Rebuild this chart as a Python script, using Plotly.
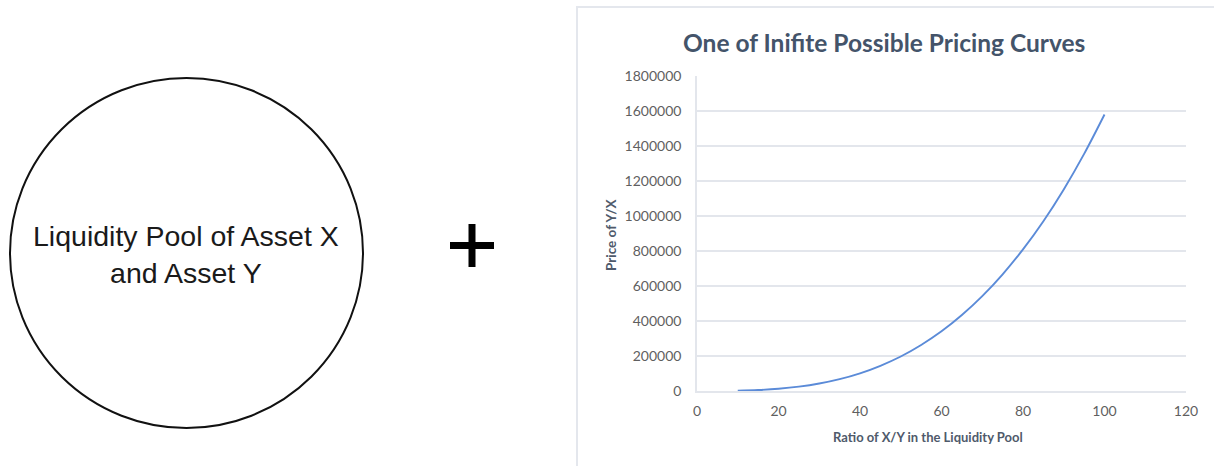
import plotly.graph_objects as go

# Pricing curve: price of Y/X at each X/Y ratio in the pool
ratio = [10, 15, 20, 25, 30, 35, 40, 45, 50, 55, 60, 65, 70, 75, 80, 85, 90, 95, 100]
price = [1600, 5300, 12600, 24700, 42700, 67700, 101000, 144000, 197000, 263000,
         341000, 434000, 542000, 667000, 809000, 970000, 1152000, 1355000, 1580000]

x_ticks = [0, 20, 40, 60, 80, 100, 120]
y_ticks = [0, 200000, 400000, 600000, 800000, 1000000, 1200000, 1400000, 1600000, 1800000]

chart_title = "One of Inifite Possible Pricing Curves"
x_title = "Ratio of X/Y in the Liquidity Pool"
y_title = "Price of Y/X"
pool_label = "Liquidity Pool of Asset X<br>and Asset Y"

W, H = 1214, 466


def px(x):
    return x / W


def py(y):
    return 1 - y / H


TICK_FONT = dict(family="Lato, Open Sans, sans-serif", size=14, color="#5f5f5f")
TITLE_COLOR = "#44546a"
AXIS_TITLE_COLOR = "#4f5a6b"
GRID = "#e3e6ec"

fig = go.Figure()
fig.add_trace(go.Scatter(
    x=ratio, y=price, mode="lines", line_shape="spline",
    line=dict(color="#5b8bd8", width=1.9), showlegend=False, hoverinfo="x+y",
))

fig.update_layout(
    template="none",
    width=W, height=H, autosize=False,
    margin=dict(l=0, r=0, t=0, b=0, pad=0, autoexpand=False),
    paper_bgcolor="white", plot_bgcolor="white",
    xaxis=dict(
        domain=[px(697), px(1186)], range=[0, 120], automargin=False,
        tickvals=x_ticks, ticktext=[str(v) for v in x_ticks],
        showgrid=False, zeroline=False,
        showline=True, linecolor=GRID, linewidth=1.5,
        ticks="", ticklabelstandoff=6, tickfont=TICK_FONT,
    ),
    yaxis=dict(
        domain=[py(391), py(76)], range=[0, 1800000], automargin=False,
        tickvals=y_ticks, ticktext=[str(v) for v in y_ticks],
        showgrid=True, gridcolor=GRID, gridwidth=1.5, zeroline=False,
        showline=True, linecolor=GRID, linewidth=1.5,
        ticks="", ticklabelstandoff=11, tickfont=TICK_FONT,
    ),
    shapes=[
        # chart panel frame
        dict(type="rect", xref="paper", yref="paper",
             x0=px(577), x1=px(1230), y0=py(480), y1=py(7),
             line=dict(color="#e4e7ed", width=2), fillcolor="rgba(0,0,0,0)", layer="below"),
        # liquidity pool circle
        dict(type="circle", xref="paper", yref="paper",
             x0=px(10), x1=px(363), y0=py(428), y1=py(78),
             line=dict(color="#111111", width=2)),
        # plus sign
        dict(type="rect", xref="paper", yref="paper",
             x0=px(450), x1=px(494), y0=py(249), y1=py(242),
             line=dict(width=0), fillcolor="#000000"),
        dict(type="rect", xref="paper", yref="paper",
             x0=px(468.5), x1=px(475.5), y0=py(267), y1=py(224),
             line=dict(width=0), fillcolor="#000000"),
    ],
    annotations=[
        dict(text=chart_title, xref="paper", yref="paper", x=px(884), y=py(42),
             xanchor="center", yanchor="middle", showarrow=False,
             font=dict(family="Lato, Open Sans, sans-serif", size=24.5, color=TITLE_COLOR, weight="bold")),
        dict(text=x_title, xref="paper", yref="paper", x=px(928), y=py(437),
             xanchor="center", yanchor="middle", showarrow=False,
             font=dict(family="Lato, Open Sans, sans-serif", size=13, color=AXIS_TITLE_COLOR, weight="bold")),
        dict(text=y_title, xref="paper", yref="paper", x=px(611), y=py(235),
             xanchor="center", yanchor="middle", showarrow=False, textangle=-90,
             font=dict(family="Lato, Open Sans, sans-serif", size=13.5, color=AXIS_TITLE_COLOR, weight="bold")),
        dict(text=pool_label, xref="paper", yref="paper", x=px(186), y=py(255),
             xanchor="center", yanchor="middle", showarrow=False, align="center",
             font=dict(family="Liberation Sans, Arial, sans-serif", size=28.5, color="#1a1a1a")),
    ],
)

fig.write_html("out.html")
